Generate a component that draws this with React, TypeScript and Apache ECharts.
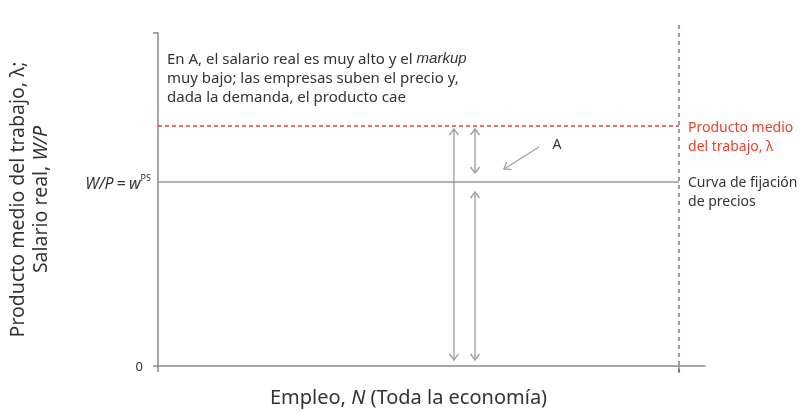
import * as echarts from "echarts";
import { useEffect, useRef } from "react";

// niveles de la figura (unidades del eje, 0-100)
const productLevel = 72.07; // producto medio del trabajo, λ
const priceSetting = 55.26; // W/P = w^PS
const laborSupply = 95.25; // oferta de trabajo
const supplyRange = [-2.1, 102.4];

const yLabelValues = [0, priceSetting];
const yTickValues = [0, 100];
const xTickValues = [0, laborSupply];

// flechas: x1, y1, x2, y2, punta al inicio, punta al final
const arrows = [
  [54.1, 71.17, 54.1, 1.8, 1, 1],
  [57.95, 71.17, 57.95, 57.96, 1, 1],
  [57.95, 52.25, 57.95, 1.8, 1, 1],
  [69.65, 65.77, 63.25, 59.16, 0, 1],
];
const pointA = [72.94, 66.67];

const FONT = "Noto Sans";
const DARK = "#333333";
const AXIS = "#8a8a8a";
const RED = "#e8412b";
const BLUE = "#4352c8";

export default function App() {
  const chartRef = useRef<HTMLDivElement>(null);

  useEffect(() => {
    if (!chartRef.current) return;
    const chart = echarts.init(chartRef.current, undefined, { renderer: "svg" });

    const head = (tip: number[], from: number[]) => {
      const dx = tip[0] - from[0];
      const dy = tip[1] - from[1];
      const len = Math.sqrt(dx * dx + dy * dy) || 1;
      const ux = dx / len;
      const uy = dy / len;
      const bx = tip[0] - ux * 6;
      const by = tip[1] - uy * 6;
      const nx = -uy * 4.5;
      const ny = ux * 4.5;
      return {
        type: "polyline",
        shape: { points: [[bx + nx, by + ny], tip, [bx - nx, by - ny]] },
        style: { stroke: "#a3a3a3", lineWidth: 1.4, fill: "none" },
      };
    };

    const option: echarts.EChartsOption = {
      animation: false,
      textStyle: { fontFamily: FONT },
      grid: { left: 158, right: 105, top: 33, bottom: 47, outerBoundsMode: "none" } as any,
      graphic: [
        {
          type: "text",
          left: 167,
          top: 48,
          style: {
            text:
              "En A, el salario real es muy alto y el {i|markup}\nmuy bajo; las empresas suben el precio y,\ndada la demanda, el producto cae",
            font: `15px ${FONT}`,
            fill: DARK,
            lineHeight: 19,
            rich: {
              i: { fontStyle: "italic", fontSize: 15, lineHeight: 19, fill: DARK },
            },
          } as any,
        },
      ],
      xAxis: {
        type: "value",
        min: 0,
        max: 100,
        name: "Empleo, {i|N} (Toda la economía)",
        nameLocation: "middle",
        nameGap: 20,
        nameTextStyle: {
          fontSize: 20,
          color: DARK,
          padding: [0, 46, 0, 0],
          rich: { i: { fontStyle: "italic", fontSize: 20, color: DARK } },
        },
        splitLine: { show: false },
        axisLine: { lineStyle: { color: AXIS, width: 1.5 } },
        axisTick: { show: true, length: 6, customValues: xTickValues, lineStyle: { color: AXIS, width: 1.5 } },
        axisLabel: { show: false },
      },
      yAxis: {
        type: "value",
        min: 0,
        max: 100,
        name: "Producto medio del trabajo, λ;\nSalario real, {i|W/P}",
        nameLocation: "middle",
        nameRotate: 90,
        nameGap: 107,
        nameTextStyle: {
          fontSize: 19.5,
          lineHeight: 23,
          color: DARK,
          rich: { i: { fontStyle: "italic", fontSize: 19.5, lineHeight: 23, color: DARK } },
        },
        splitLine: { show: false },
        axisLine: { show: true, lineStyle: { color: AXIS, width: 1.5 } },
        axisTick: { show: true, length: 5, customValues: yTickValues, lineStyle: { color: AXIS, width: 1.5 } },
        axisLabel: {
          customValues: yLabelValues,
          margin: 7,
          formatter: (v: number) =>
            v === 0 ? "{z|0}" : "{i|W/P} {n|=} {i|w}{s|PS}",
          rich: {
            z: { fontSize: 13, color: DARK, padding: [0, 8, 0, 0] },
            i: { fontSize: 16, fontStyle: "italic", color: DARK, verticalAlign: "bottom", lineHeight: 18 },
            n: { fontSize: 16, color: DARK, verticalAlign: "bottom", lineHeight: 18 },
            s: { fontSize: 9, color: DARK, verticalAlign: "top", lineHeight: 12 },
          },
        },
      },
      series: [
        {
          type: "line",
          name: "Producto medio",
          data: [
            [0, productLevel],
            [laborSupply, productLevel],
          ],
          showSymbol: false,
          silent: true,
          lineStyle: { color: RED, width: 1.4, type: [4, 3] },
          markPoint: {
            symbolSize: 0,
            silent: true,
            data: [{ coord: [laborSupply, productLevel] }],
            label: {
              show: true,
              position: [9, -9.5],
              align: "left",
              verticalAlign: "top",
              formatter: "Producto medio\ndel trabajo, λ",
              fontSize: 14,
              lineHeight: 19,
              color: RED,
            },
          },
        },
        {
          type: "line",
          name: "Fijación de precios",
          data: [
            [0, priceSetting],
            [laborSupply, priceSetting],
          ],
          showSymbol: false,
          silent: true,
          lineStyle: { color: "#9a9a9a", width: 1.4 },
          markPoint: {
            symbolSize: 0,
            silent: true,
            data: [
              {
                coord: [laborSupply, priceSetting],
                label: {
                  show: true,
                  position: [9, -9.5],
                  align: "left",
                  verticalAlign: "top",
                  formatter: "Curva de fijación\nde precios",
                  fontSize: 14,
                  lineHeight: 19,
                  color: DARK,
                },
              },
              {
                coord: pointA,
                label: {
                  show: true,
                  position: "inside",
                  formatter: "A",
                  fontSize: 14,
                  color: DARK,
                },
              },
            ],
          },
        },
        {
          type: "line",
          name: "Oferta de trabajo",
          data: [
            [laborSupply, supplyRange[0]],
            [laborSupply, supplyRange[1]],
          ],
          clip: false,
          showSymbol: false,
          silent: true,
          lineStyle: { color: BLUE, width: 1.2, type: [4, 4] },
          markPoint: {
            symbolSize: 0,
            silent: true,
            data: [{ coord: [laborSupply, supplyRange[1]] }],
            label: {
              show: true,
              position: [11, -11],
              align: "center",
              verticalAlign: "middle",
              formatter: "Oferta de trabajo",
              fontSize: 14,
              color: BLUE,
            },
          },
        },
        {
          type: "custom",
          silent: true,
          clip: false,
          encode: { x: [0, 2], y: [1, 3] },
          data: arrows,
          renderItem: (_params: any, api: any) => {
            const p1 = api.coord([api.value(0), api.value(1)]);
            const p2 = api.coord([api.value(2), api.value(3)]);
            const children: any[] = [
              {
                type: "line",
                shape: { x1: p1[0], y1: p1[1], x2: p2[0], y2: p2[1] },
                style: { stroke: "#a3a3a3", lineWidth: 1.4 },
              },
            ];
            if (api.value(4)) children.push(head(p1, p2));
            if (api.value(5)) children.push(head(p2, p1));
            return { type: "group", children };
          },
        } as any,
      ],
    };

    chart.setOption(option);
    return () => chart.dispose();
  }, []);

  return (
    <div
      ref={chartRef}
      style={{ position: "fixed", left: 0, top: 0, width: 810, height: 413 }}
    />
  );
}
